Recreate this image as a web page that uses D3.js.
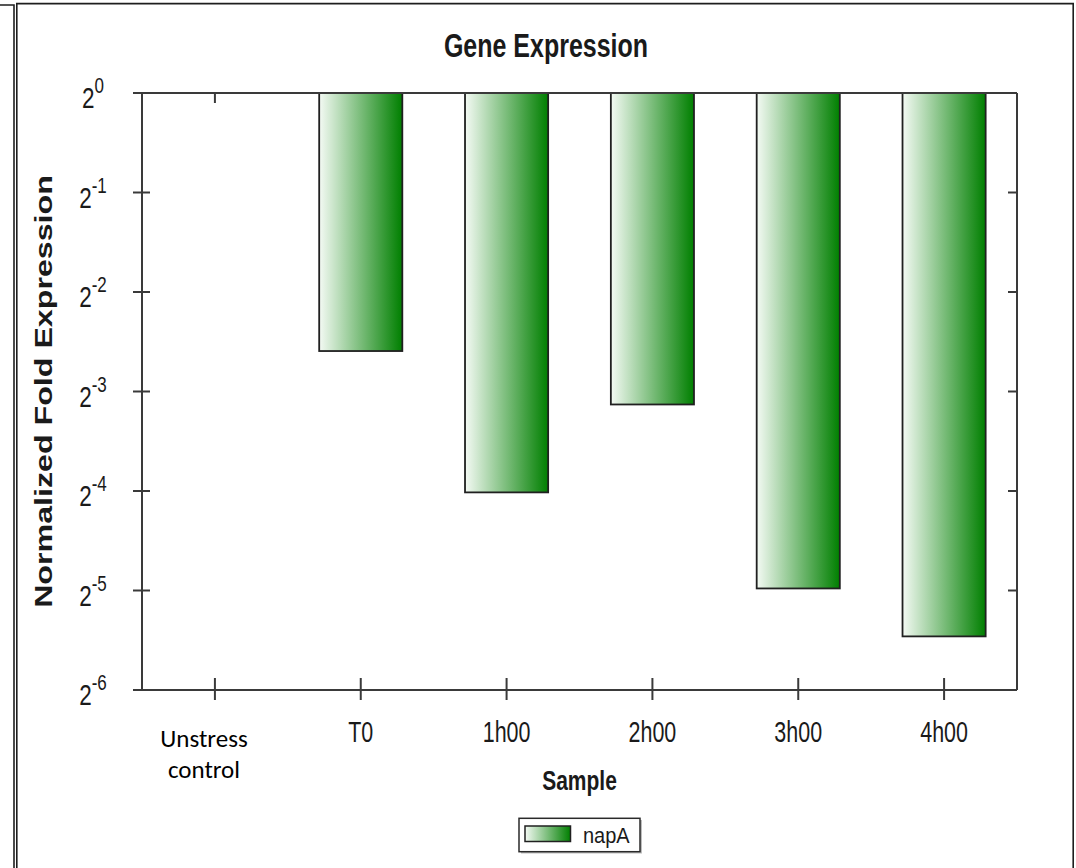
<!DOCTYPE html>
<html>
<head>
<meta charset="utf-8">
<script src="https://cdn.jsdelivr.net/npm/d3@7"></script>
<style>
  html, body { margin: 0; padding: 0; background: #fff; }
  svg { display: block; }
  text { font-family: "Liberation Sans", Arial, sans-serif; fill: #1a1a1a; }
</style>
</head>
<body>
<svg id="chart" width="1076" height="868"></svg>
<script>
// Samples along the x axis
const categories = ["Unstress control", "T0", "1h00", "2h00", "3h00", "4h00"];
// Normalized fold expression of napA per sample (relative to the unstressed control)
const foldValues = [1, 0.1657, 0.0619, 0.1142, 0.0317, 0.0227];
// Log2 exponents shown on the y axis
const yTickExponents = [0, -1, -2, -3, -4, -5, -6];
const seriesName = "napA";
const chartTitle = "Gene Expression";
const xTitle = "Sample";
const yTitle = "Normalized Fold Expression";

const svg = d3.select("#chart");
const plot = { left: 142, right: 1017, top: 93, bottom: 690 };
const axisColor = "#3a3a3a";
const stretch = 1.33; // vertical stretch of the text glyphs

// gradient used by bars and the legend swatch
const defs = svg.append("defs");
const grad = defs.append("linearGradient").attr("id", "barFill")
  .attr("x1", "0%").attr("x2", "100%").attr("y1", "0%").attr("y2", "0%");
grad.append("stop").attr("offset", "0%").attr("stop-color", "#f4faf4");
grad.append("stop").attr("offset", "100%").attr("stop-color", "#007f00");

// page frame
const frame = svg.append("g").attr("fill", "none").attr("stroke", "#1e1e1e").attr("stroke-width", 1.6);
frame.append("path").attr("d", "M0,5 H14 V868");
frame.append("path").attr("d", "M16.8,868 V3.6 H1073.2 V868");

// scales
const x = d3.scaleBand().domain(categories).range([plot.left, plot.right]).padding(0);
const xBar = d3.scaleBand().domain(categories).range([plot.left, plot.right])
  .paddingInner(0.43).paddingOuter(0.215);
const y = d3.scaleLog().base(2).domain([1, Math.pow(2, -6)]).range([plot.top, plot.bottom]);

const ax = svg.append("g").attr("stroke", axisColor).attr("stroke-width", 2).attr("fill", "none");

// top ticks sit underneath the bars
ax.selectAll(".xt").data(categories).join("line")
  .attr("x1", d => x(d) + x.bandwidth() / 2).attr("x2", d => x(d) + x.bandwidth() / 2)
  .attr("y1", plot.top).attr("y2", plot.top + 10);

// bars hang down from 2^0
const data = categories.map((c, i) => ({ cat: c, v: foldValues[i] }));
svg.append("g").selectAll("rect").data(data.filter(d => y(d.v) - y(1) > 0.5)).join("rect")
  .attr("x", d => xBar(d.cat))
  .attr("y", y(1))
  .attr("width", xBar.bandwidth())
  .attr("height", d => y(d.v) - y(1))
  .attr("fill", "url(#barFill)")
  .attr("stroke", "#202020")
  .attr("stroke-width", 1.8);

// axes box and ticks
const ax2 = svg.append("g").attr("stroke", axisColor).attr("stroke-width", 2).attr("fill", "none");
ax2.append("line").attr("x1", 133).attr("x2", plot.right).attr("y1", plot.top).attr("y2", plot.top);
ax2.append("line").attr("x1", 133).attr("x2", plot.right).attr("y1", plot.bottom).attr("y2", plot.bottom);
ax2.append("line").attr("x1", plot.left).attr("x2", plot.left).attr("y1", plot.top).attr("y2", plot.bottom);
ax2.append("line").attr("x1", plot.right).attr("x2", plot.right).attr("y1", plot.top).attr("y2", plot.bottom);

const yTicks = yTickExponents.slice(1, -1).map(e => Math.pow(2, e));
ax2.selectAll(".yl").data(yTicks).join("line")
  .attr("x1", 133).attr("x2", 150).attr("y1", d => y(d)).attr("y2", d => y(d));
ax2.selectAll(".yr").data(yTicks).join("line")
  .attr("x1", plot.right - 9).attr("x2", plot.right).attr("y1", d => y(d)).attr("y2", d => y(d));
ax2.selectAll(".xb").data(categories).join("line")
  .attr("x1", d => x(d) + x.bandwidth() / 2).attr("x2", d => x(d) + x.bandwidth() / 2)
  .attr("y1", plot.bottom - 12).attr("y2", plot.bottom + 10);

// helper: text placed in a vertically stretched group
function stretchedText(px, py, sy, str, opts) {
  const g = svg.append("g").attr("transform", `translate(${px},${py}) scale(1,${sy})`);
  const t = g.append("text").attr("x", 0).attr("y", 0)
    .attr("text-anchor", opts.anchor || "middle")
    .attr("font-size", opts.size)
    .attr("font-weight", opts.weight || "normal")
    .text(str);
  return t;
}

// y tick labels: 2 with superscript exponent
yTickExponents.forEach(e => {
  const yy = y(Math.pow(2, e));
  const g = svg.append("g").attr("transform", `translate(93,${yy + 15}) scale(1,${stretch})`);
  const t = g.append("text").attr("text-anchor", "middle").attr("font-size", 22.5);
  t.append("tspan").text("2");
  t.append("tspan").attr("font-size", 17).attr("dy", -11).text(String(e));
});

// x tick labels
categories.forEach(c => {
  const cx = x(c) + x.bandwidth() / 2;
  if (c === "Unstress control") {
    const t = svg.append("text").attr("text-anchor", "middle")
      .style("font-family", "Carlito, Lato, 'Open Sans', sans-serif")
      .attr("font-size", 25).style("fill", "#000");
    const words = c.split(" ");
    t.append("tspan").attr("x", 204).attr("y", 747).text(words[0]);
    t.append("tspan").attr("x", 204).attr("y", 778).text(words[1]);
  } else {
    stretchedText(cx, 742, stretch, c, { size: 21.5 });
  }
});

// titles
stretchedText(546, 57, stretch, chartTitle, { size: 25, weight: "bold" });
stretchedText((plot.left + plot.right) / 2, 790, stretch, xTitle, { size: 21, weight: "bold" });
svg.append("g").attr("transform", `translate(51.5,${(plot.top + plot.bottom) / 2}) scale(1,1.37) rotate(-90)`)
  .append("text").attr("text-anchor", "middle").attr("font-size", 23.5).attr("font-weight", "bold")
  .text(yTitle);

// legend
const lg = svg.append("g");
lg.append("rect").attr("x", 521).attr("y", 820).attr("width", 121).attr("height", 33.5).attr("fill", "#bdbdbd");
lg.append("rect").attr("x", 519).attr("y", 818.3).attr("width", 121).attr("height", 33.4)
  .attr("fill", "#fff").attr("stroke", "#2a2a2a").attr("stroke-width", 1.5);
lg.append("rect").attr("x", 525).attr("y", 826).attr("width", 45.5).attr("height", 15.5)
  .attr("fill", "url(#barFill)").attr("stroke", "#202020").attr("stroke-width", 1.5);
stretchedText(583, 843, 1.08, seriesName, { size: 20, anchor: "start" });
</script>
</body>
</html>
